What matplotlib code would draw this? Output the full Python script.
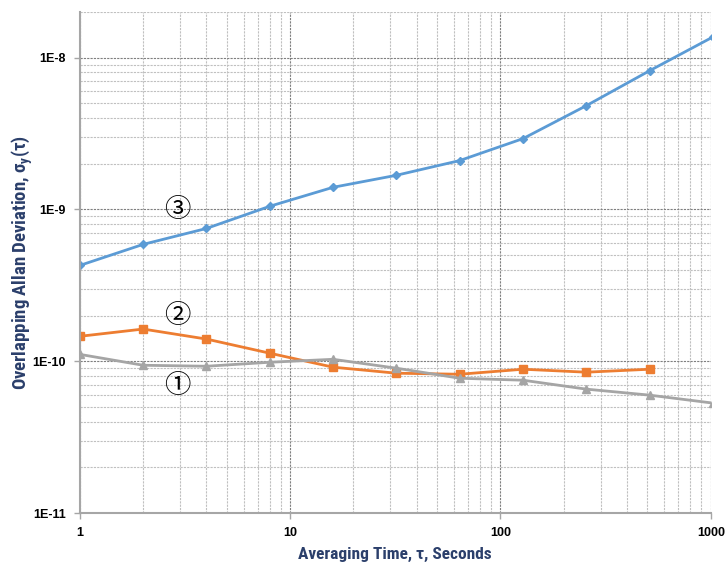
import numpy as np
import matplotlib.pyplot as plt
from matplotlib.ticker import LogLocator, FixedLocator, NullFormatter

plt.rcParams['font.family'] = ['Liberation Sans', 'DejaVu Sans']
plt.rcParams['mathtext.fontset'] = 'custom'
plt.rcParams['mathtext.rm'] = 'Roboto Condensed:bold'
plt.rcParams['mathtext.it'] = 'Roboto Condensed:bold'
plt.rcParams['mathtext.bf'] = 'Roboto Condensed:bold'

# averaging times (s)
tau = [1, 2, 4, 8, 16, 32, 64, 128, 256, 512, 1024]
tau_2 = [1, 2, 4, 8, 16, 32, 64, 128, 256, 512]

# overlapping Allan deviation, three data sets
adev_3 = [4.28e-10, 5.89e-10, 7.50e-10, 1.05e-9, 1.40e-9, 1.68e-9,
          2.10e-9, 2.93e-9, 4.83e-9, 8.21e-9, 1.37e-8]
adev_2 = [1.46e-10, 1.63e-10, 1.40e-10, 1.13e-10, 9.14e-11, 8.34e-11,
          8.21e-11, 8.86e-11, 8.47e-11, 8.86e-11]
adev_1 = [1.11e-10, 9.41e-11, 9.27e-11, 9.85e-11, 1.03e-10, 9.00e-11,
          7.73e-11, 7.50e-11, 6.55e-11, 5.98e-11, 5.30e-11]

xticks = [1, 10, 100, 1000]
xticklabels = ['1', '10', '100', '1000']
yticks = [1e-11, 1e-10, 1e-9, 1e-8]
yticklabels = ['1E-11', '1E-10', '1E-9', '1E-8']

fig = plt.figure(figsize=(7.26, 5.67), dpi=100)
ax = fig.add_axes([0.110, 0.0952, 0.869, 0.8836])

ax.plot(tau, adev_3, color='#5B9BD5', lw=2, marker='D', ms=4.5)
ax.plot(tau_2, adev_2, color='#ED7D31', lw=2, marker='s', ms=5.5)
ax.plot(tau, adev_1, color='#A5A5A5', lw=2, marker='^', ms=6)

ax.set_xscale('log')
ax.set_yscale('log')
ax.set_xlim(1, 1000)
ax.set_ylim(1e-11, 2e-8)

ax.xaxis.set_major_locator(FixedLocator(xticks))
ax.set_xticklabels(xticklabels)
ax.yaxis.set_major_locator(FixedLocator(yticks))
ax.set_yticklabels(yticklabels)
ax.xaxis.set_minor_locator(LogLocator(base=10, subs=np.arange(2, 10)))
ax.yaxis.set_minor_locator(LogLocator(base=10, subs=np.arange(2, 10)))
ax.xaxis.set_minor_formatter(NullFormatter())
ax.yaxis.set_minor_formatter(NullFormatter())

ax.grid(which='major', color='#7F7F7F', ls=(0, (2, 1)), lw=0.8)
ax.grid(which='minor', color='#C0C0C0', ls=(0, (2, 1)), lw=0.8)
ax.set_axisbelow(True)

for s in ['top', 'right']:
    ax.spines[s].set_visible(False)
for s in ['left', 'bottom']:
    ax.spines[s].set_color('#A6A6A6')
    ax.spines[s].set_linewidth(1.5)

ax.tick_params(which='major', length=4, color='#A6A6A6', width=1,
               labelsize=9, pad=6)
ax.tick_params(which='minor', length=0)
for lab in ax.get_xticklabels() + ax.get_yticklabels():
    lab.set_fontweight('bold')

lab_color = '#2B3F6B'
lab_font = ['Roboto Condensed', 'Liberation Sans']
ax.set_xlabel('Averaging Time, τ, Seconds', fontsize=12.5, fontweight='bold',
              color=lab_color, family=lab_font)
ax.set_ylabel(r'Overlapping Allan Deviation, $\sigma_y(\tau)$', fontsize=13.5,
              fontweight='bold', color=lab_color, family=lab_font)
ax.xaxis.set_label_coords(0.5, -0.068)
ax.yaxis.set_label_coords(-0.071, 0.5)

circ_font = ['Noto Sans CJK JP', 'DejaVu Sans']
ax.text(2.9, 1.0e-9, '③', fontsize=19, family=circ_font, ha='center', va='center')
ax.text(2.9, 2.0e-10, '②', fontsize=19, family=circ_font, ha='center', va='center')
ax.text(2.9, 6.9e-11, '①', fontsize=19, family=circ_font, ha='center', va='center')

fig.savefig('out.png', dpi=100)
